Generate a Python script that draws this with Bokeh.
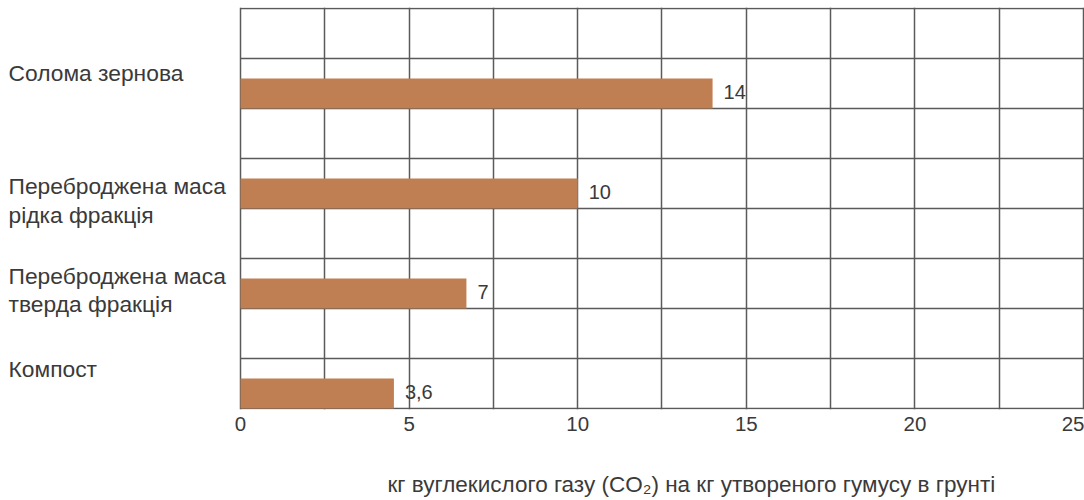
from bokeh.plotting import figure
from bokeh.models import Title, FixedTicker, ColumnDataSource
from bokeh.core.properties import value
from bokeh.embed import file_html
from bokeh.resources import INLINE

# Data (top to bottom in the chart)
categories = ["Солома зернова", "Переброджена маса\nрідка фракція",
              "Переброджена маса\nтверда фракція", "Компост"]
bar_values = [14.0, 10.0, 6.7, 4.55]
value_labels = ["14", "10", "7", "3,6"]
x_ticks = [0, 5, 10, 15, 20, 25]
x_title = "кг вуглекислого газу (CO₂) на кг утвореного гумусу в грунті"

FONT = "Liberation Sans"
TXT = "#3a3a3a"
BAR = "#c07f52"
GRID = "#5a5a5a"

n = len(categories)
slot_bottom = [2 * (n - 1 - i) for i in range(n)]
bar_h = 0.6
centers = [b + bar_h / 2 for b in slot_bottom]
label_shift = [0.72, 0.16, 0.37, 0.8]
label_y = [b + s for b, s in zip(slot_bottom, label_shift)]

src = ColumnDataSource(dict(y=centers, v=bar_values, t=value_labels))
cat_src = ColumnDataSource(dict(y=label_y, t=categories, x=[-6.88] * n))

X0 = -240 / 33.72
p = figure(width=1084, height=500, x_range=(X0, 25.03), y_range=(-0.02, 2 * n + 0.02),
           output_backend="svg", toolbar_location=None,
           min_border_left=0, min_border_right=0, min_border_top=7,
           min_border_bottom=91)
p.background_fill_color = "white"
p.border_fill_color = "white"
p.outline_line_color = None

# horizontal grid lines (only across the plotting area 0..25)
h_lines = list(range(0, 2 * n + 1))
p.segment(x0=0, x1=25, y0=h_lines, y1=h_lines, line_color=GRID, line_width=1.5)

p.hbar(y="y", right="v", left=0, height=bar_h, source=src,
       fill_color=BAR, line_color=None)
p.text(x="v", y="y", text="t", source=src, x_offset=11, y_offset=-2,
       text_baseline="middle", text_align="left",
       text_font=value(FONT), text_font_size="20px", text_color=TXT)

p.text(x="x", y="y", text="t", source=cat_src,
       text_baseline="middle", text_align="left", text_line_height=1.1,
       text_font=value(FONT), text_font_size="22.8px", text_color=TXT)

# vertical grid
p.xgrid.ticker = FixedTicker(ticks=[i * 2.5 for i in range(11)])
p.xgrid.grid_line_color = GRID
p.xgrid.grid_line_width = 1.5
p.xgrid.bounds = (0, 25)
p.ygrid.visible = False

# x axis
p.xaxis.ticker = FixedTicker(ticks=x_ticks)
p.xaxis.axis_line_color = None
p.xaxis.major_tick_line_color = None
p.xaxis.minor_tick_line_color = None
p.xaxis.major_label_standoff = 1
p.xaxis.major_label_text_font = FONT
p.xaxis.major_label_text_font_size = "20.5px"
p.xaxis.major_label_text_color = TXT
p.yaxis.visible = False

t = Title(text=x_title, align="left", offset=387, text_font=FONT,
          text_font_size="22.5px", text_font_style="normal", text_color=TXT,
          standoff=0, padding=dict(top=36, bottom=0, left=0, right=0))
p.add_layout(t, "below")

open("out.html", "w").write(file_html(p, INLINE))
